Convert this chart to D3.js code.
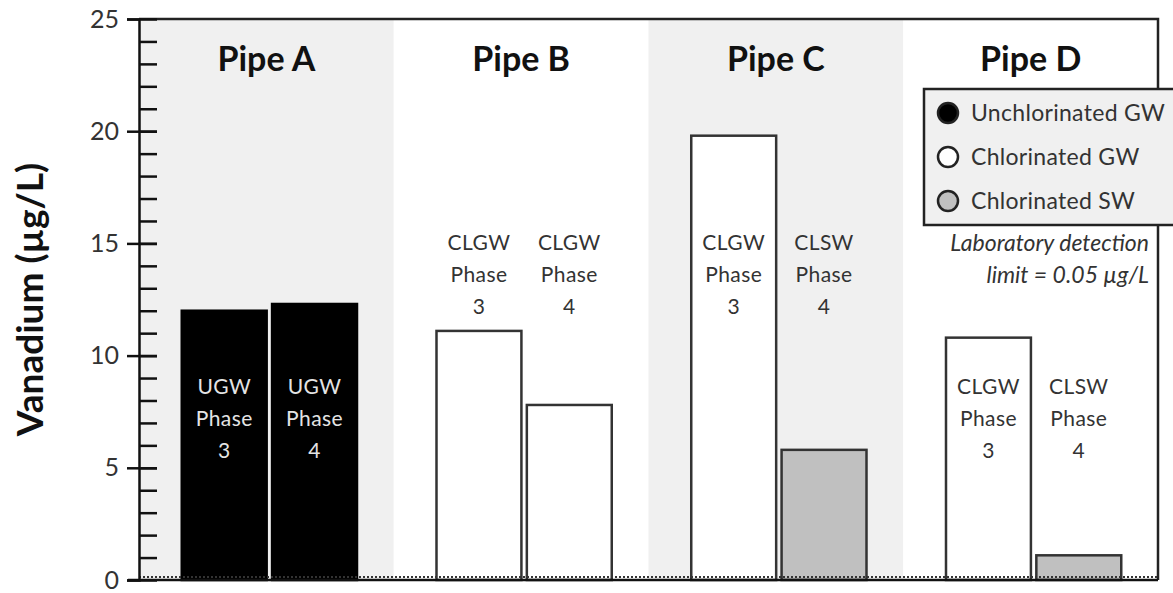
<!DOCTYPE html>
<html>
<head>
<meta charset="utf-8">
<title>Vanadium by pipe</title>
<script src="https://d3js.org/d3.v7.min.js"></script>
<style>
  body { margin: 0; background: #fff; }
  text { font-family: Lato, "Open Sans", sans-serif; }
</style>
</head>
<body>
<svg width="1173" height="593"></svg>
<script>
// data
const pipes = ["Pipe A", "Pipe B", "Pipe C", "Pipe D"];
const phases = ["Phase 3", "Phase 4"];
const waterTypes = [["UGW", "UGW"], ["CLGW", "CLGW"], ["CLGW", "CLSW"], ["CLGW", "CLSW"]];
const vanadium = [[12.0, 12.3], [11.1, 7.8], [19.8, 5.8], [10.8, 1.1]];
const labelAt = [[8.3, 8.3], [14.7, 14.7], [14.7, 14.7], [8.3, 8.3]];
const yTicks = [0, 5, 10, 15, 20, 25];
const legendNames = ["Unchlorinated GW", "Chlorinated GW", "Chlorinated SW"];
const legendKeys = ["UGW", "CLGW", "CLSW"];

const fillFor = { UGW: "#000", CLGW: "#fff", CLSW: "#c0c0c0" };

const svg = d3.select("svg"),
    margin = {top: 19, right: 15, bottom: 13, left: 139},
    width = +svg.attr("width") - margin.left - margin.right,
    height = +svg.attr("height") - margin.top - margin.bottom,
    g = svg.append("g").attr("transform", "translate(" + margin.left + "," + margin.top + ")");

const x = d3.scaleBand().domain(pipes).range([0, width]).padding(0);
const xSub = d3.scaleBand().domain(phases).range([0, x.bandwidth()])
    .paddingInner(0.06).paddingOuter(0.44);
const y = d3.scaleLinear().domain([0, 25]).range([height, 0]);

// panel shading
g.selectAll(".panel")
  .data(pipes)
  .enter().append("rect")
    .attr("x", d => x(d))
    .attr("y", 0)
    .attr("width", x.bandwidth())
    .attr("height", height)
    .attr("fill", (d, i) => i % 2 === 0 ? "#f0f0f0" : "#fff");

// frame (top + right)
g.append("path")
  .attr("d", "M0,0H" + width + "V" + height)
  .attr("fill", "none").attr("stroke", "#222").attr("stroke-width", 2.5);

// bars
pipes.forEach(function(p, i) {
  const grp = g.append("g").attr("transform", "translate(" + (x(p) + 3) + ",0)");
  phases.forEach(function(ph, j) {
    const key = waterTypes[i][j];
    grp.append("rect")
      .attr("x", xSub(ph))
      .attr("y", y(vanadium[i][j]))
      .attr("width", xSub.bandwidth())
      .attr("height", y(0) - y(vanadium[i][j]))
      .attr("fill", fillFor[key])
      .attr("stroke", key === "UGW" ? "#000" : "#333")
      .attr("stroke-width", 2.5);

    const lines = [key, "Phase", ph.split(" ")[1]];
    const t = grp.append("text")
      .attr("x", xSub(ph) + xSub.bandwidth() / 2)
      .attr("y", y(labelAt[i][j]))
      .attr("text-anchor", "middle")
      .style("font-size", "21px")
      .style("letter-spacing", "0.4px")
      .attr("fill", key === "UGW" ? "#e4e4e4" : "#333");
    lines.forEach(function(s, k) {
      t.append("tspan").attr("x", xSub(ph) + xSub.bandwidth() / 2)
        .attr("dy", k === 0 ? 0 : 32).text(s);
    });
  });

  g.append("text")
    .attr("x", x(p) + x.bandwidth() / 2)
    .attr("y", 52)
    .attr("text-anchor", "middle")
    .style("font-size", "34px")
    .style("font-weight", "bold")
    .attr("fill", "#111")
    .text(p);
});

// detection-limit dotted line and baseline
g.append("line")
  .attr("x1", 0).attr("x2", width)
  .attr("y1", y(0) - 3).attr("y2", y(0) - 3)
  .attr("stroke", "#333").attr("stroke-width", 2)
  .attr("stroke-dasharray", "2,2");
g.append("line")
  .attr("x1", -11).attr("x2", width)
  .attr("y1", y(0)).attr("y2", y(0))
  .attr("stroke", "#111").attr("stroke-width", 2.5);

// Axes
const yAxis = g.append("g")
  .call(d3.axisLeft(y).tickValues(yTicks).tickSize(12).tickPadding(8));
yAxis.select(".domain").attr("stroke", "#111").attr("stroke-width", 2.5);
yAxis.selectAll(".tick line").attr("stroke", "#111").attr("stroke-width", 2.5)
  .attr("x2", 18).attr("x1", -12);
yAxis.selectAll(".tick text")
  .style("font-size", "25px")
  .style("font-family", "Lato, sans-serif")
  .attr("fill", "#333");

const minor = g.append("g")
  .call(d3.axisRight(y).tickValues(d3.range(1, 25)).tickSize(18).tickFormat(""));
minor.select(".domain").remove();
minor.selectAll(".tick line").attr("stroke", "#111").attr("stroke-width", 2.5);

// y title
svg.append("text")
  .attr("transform", "translate(43," + (margin.top + height / 2) + ") rotate(-90)")
  .attr("text-anchor", "middle")
  .style("font-size", "37px")
  .style("font-weight", "bold")
  .attr("fill", "#111")
  .text("Vanadium (µg/L)");

// legend
const legend = svg.append("g").attr("transform", "translate(924,89)");
legend.append("rect")
  .attr("width", 260).attr("height", 136)
  .attr("fill", "#f0f0f0").attr("stroke", "#222").attr("stroke-width", 2.5);
legendNames.forEach(function(name, i) {
  const row = legend.append("g").attr("transform", "translate(0," + (24 + i * 44) + ")");
  row.append("circle")
    .attr("cx", 24).attr("cy", 0).attr("r", 10)
    .attr("fill", fillFor[legendKeys[i]])
    .attr("stroke", "#222").attr("stroke-width", 2.5);
  row.append("text")
    .attr("x", 47).attr("y", 8)
    .style("font-size", "23px")
    .style("letter-spacing", "0.3px")
    .attr("fill", "#333")
    .text(name);
});

// detection-limit note
const note = svg.append("text")
  .attr("text-anchor", "end")
  .style("font-size", "23px")
  .style("font-style", "italic")
  .attr("fill", "#333");
note.append("tspan").attr("x", 1149).attr("y", 251).text("Laboratory detection");
note.append("tspan").attr("x", 1149).attr("y", 283).text("limit = 0.05 µg/L");
</script>
</body>
</html>
